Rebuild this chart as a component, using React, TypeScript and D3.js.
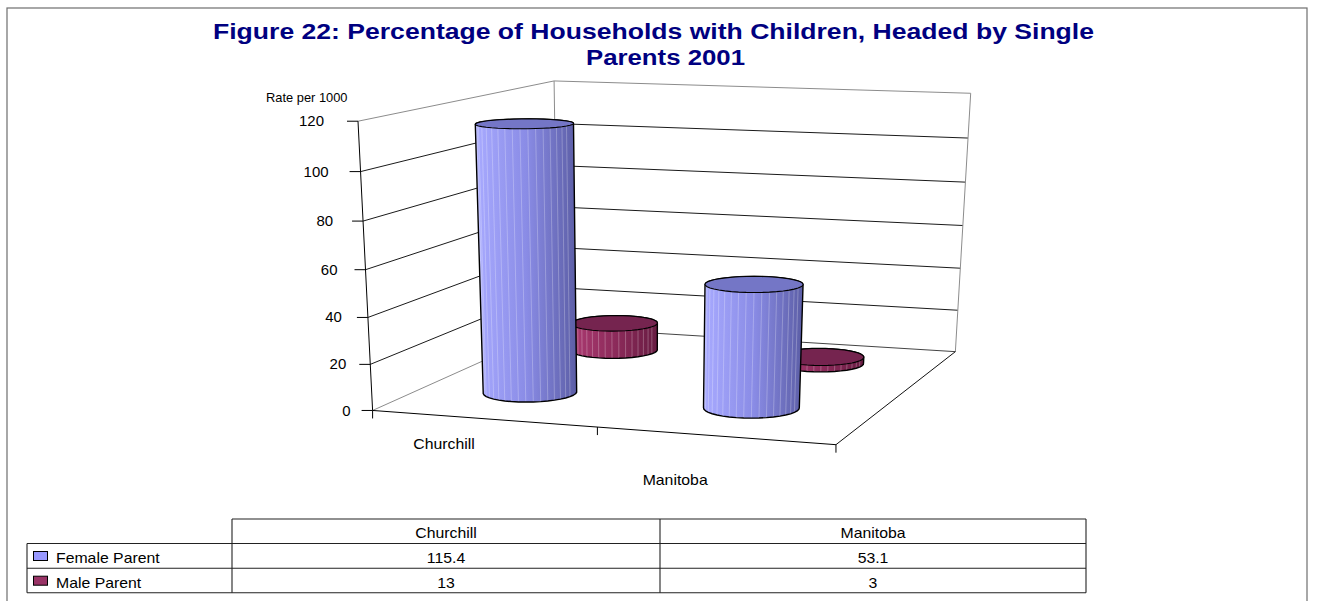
import React, { useMemo } from 'react';
import * as d3 from 'd3';

// ---------- data ----------
const categories = ['Churchill', 'Manitoba'];
const seriesNames = ['Female Parent', 'Male Parent'];
const femaleValues = [115.4, 53.1];
const maleValues = [13, 3];
const valueTicks = [0, 20, 40, 60, 80, 100, 120];
const titleLines = ['Figure 22: Percentage of Households with Children, Headed by Single', 'Parents 2001'];
const axisTitle = 'Rate per 1000';

// ---------- styles / layout ----------
const seriesValues = [femaleValues, maleValues];
const seriesFill = ['#9999FF', '#993366'];
const seriesGrad = [
  ['#a8aaff', '#8a8ce6', '#5c5ea6'],
  ['#ab3a71', '#8d2b5b', '#681c42'],
];
const seriesTop = ['#7476c6', '#75244f'];
const FONT = '"Liberation Sans", Arial, sans-serif';

// plot box anchors: [u, v, w, screenX, screenY]
const boxAnchors = [
  [0, 0, 0, 374, 408],
  [0, 1, 0, 356.5, 121.5],
  [0, 0, 1, 556, 330],
  [0, 1, 1, 556, 80],
  [1, 0, 1, 956, 349],
  [1, 1, 1, 970, 94],
  [1, 0, 0, 836, 447],
];

const CX = 650, CY = 300, SC = 300;

function solveCamera(pts: number[][]): number[] {
  const rows: number[][] = [];
  const rhs: number[] = [];
  for (const [X, Y, Z, sx, sy] of pts) {
    const x = (sx - CX) / SC, y = (sy - CY) / SC;
    rows.push([X, Y, Z, 1, 0, 0, 0, 0, -x * X, -x * Y, -x * Z]); rhs.push(x);
    rows.push([0, 0, 0, 0, X, Y, Z, 1, -y * X, -y * Y, -y * Z]); rhs.push(y);
  }
  const n = 11;
  const M: number[][] = [];
  for (let i = 0; i < n; i++) {
    const r = new Array(n + 1).fill(0);
    for (let k = 0; k < rows.length; k++) {
      for (let j = 0; j < n; j++) r[j] += rows[k][i] * rows[k][j];
      r[n] += rows[k][i] * rhs[k];
    }
    M.push(r);
  }
  for (let c = 0; c < n; c++) {
    let piv = c;
    for (let r = c + 1; r < n; r++) if (Math.abs(M[r][c]) > Math.abs(M[piv][c])) piv = r;
    const tmp = M[c]; M[c] = M[piv]; M[piv] = tmp;
    for (let r = 0; r < n; r++) {
      if (r === c) continue;
      const f = M[r][c] / M[c][c];
      for (let j = c; j <= n; j++) M[r][j] -= f * M[c][j];
    }
  }
  return M.map((r, i) => r[n] / r[i]);
}

type Pt = [number, number];
const poly = (pts: Pt[]) => 'M' + pts.map(p => `${p[0].toFixed(2)},${p[1].toFixed(2)}`).join('L') + 'Z';
const line = (a: Pt, b: Pt) => `M${a[0]},${a[1]}L${b[0]},${b[1]}`;

function T({ x, y, size = 14, sx = 1.13, anchor = 'start', weight = 'normal', fill = '#000', dy, children }: any) {
  return (
    <text transform={`translate(${x},${y}) scale(${sx},1)`} textAnchor={anchor} fontSize={size}
      fontWeight={weight} fill={fill} fontFamily={FONT} dy={dy}>{children}</text>
  );
}

function Cylinder({ P, uc, wc, v, r, gradId, top }: any) {
  const N = 40;
  const bottom: Pt[] = [], topPts: Pt[] = [];
  const facets: [Pt, Pt][] = [];
  for (let i = 0; i < N; i++) {
    const t = (2 * Math.PI * i) / N;
    const u = uc + r * Math.cos(t), w = wc + r * Math.sin(t);
    const b = P(u, 0, w), tp = P(u, v, w);
    bottom.push(b); topPts.push(tp);
    if (Math.sin(t) < -0.05) facets.push([b, tp]);
  }
  const hull = d3.polygonHull([...bottom, ...topPts]) as Pt[];
  return (
    <g>
      <path d={poly(hull)} fill={`url(#${gradId})`} />
      {facets.map((f, i) => (
        <path key={i} d={line(f[0], f[1])} stroke="#ffffff" strokeOpacity={0.32} strokeWidth={0.8} />
      ))}
      <path d={poly(hull)} fill="none" stroke="#000" strokeWidth={1.4} strokeLinejoin="round" />
      <path d={poly(topPts)} fill={top} stroke="#000" strokeWidth={1.1} />
    </g>
  );
}

export default function App() {
  const cam = useMemo(() => solveCamera(boxAnchors), []);
  const P = (u: number, v: number, w: number): Pt => {
    const [a, b, c, d, e, f, g, h, i, j, k] = cam;
    const den = i * u + j * v + k * w + 1;
    return [((a * u + b * v + c * w + d) / den) * SC + CX, ((e * u + f * v + g * w + h) / den) * SC + CY];
  };

  const yScale = d3.scaleLinear().domain([0, 120]).range([0, 1]);
  const xBand = d3.scaleBand<string>().domain(categories).range([-0.012, 0.988]);
  const zPoint = d3.scalePoint<string>().domain(seriesNames).range([0.27, 0.77]);
  const uc = (c: string) => (xBand(c) as number) + xBand.bandwidth() / 2;
  const radius = 0.1;

  const gray = '#8c8c8c';

  // draw back row first
  const drawOrder = seriesNames.map((_, i) => i).reverse();

  const catLabelDy = [31, 50];

  const tableCols = [27, 232, 660, 1086];
  const rowY = [519, 543.5, 568.2, 592.7];

  return (
    <svg width={1320} height={601} style={{ position: 'absolute', left: 0, top: 0, background: '#fff' }}>
      <defs>
        {seriesGrad.map((g, i) => (
          <linearGradient key={i} id={`grad${i}`} x1="0" y1="0" x2="1" y2="0">
            <stop offset="0" stopColor={g[0]} />
            <stop offset="0.5" stopColor={g[1]} />
            <stop offset="1" stopColor={g[2]} />
          </linearGradient>
        ))}
      </defs>
      <rect x={0} y={0} width={1320} height={601} fill="#fff" />
      {/* outer border */}
      <rect x={7} y={8} width={1300} height={610} fill="none" stroke="#6e6e6e" strokeWidth={1.2} />

      {/* title */}
      <text x={213} y={38.5} fontSize={21.5} fontWeight="bold" fill="#000080" fontFamily={FONT}
        textLength={881} lengthAdjust="spacingAndGlyphs">{titleLines[0]}</text>
      <text x={586} y={65} fontSize={21.5} fontWeight="bold" fill="#000080" fontFamily={FONT}
        textLength={159} lengthAdjust="spacingAndGlyphs">{titleLines[1]}</text>

      {/* axis title */}
      <T x={266} y={101.5} size={12.5} sx={1.03}>{axisTitle}</T>

      {/* walls & gridlines */}
      <g fill="none" strokeWidth={1}>
        {valueTicks.filter(t => t > 0 && t < 120).map(t => {
          const v = yScale(t);
          const a = P(0, v, 0), b = P(0, v, 1), c = P(1, v, 1);
          return <path key={t} d={`M${a[0]},${a[1]}L${b[0]},${b[1]}L${c[0]},${c[1]}`} stroke="#1a1a1a" />;
        })}
        <path d={line(P(0, 1, 0), P(0, 1, 1))} stroke={gray} />
        <path d={line(P(0, 1, 1), P(1, 1, 1))} stroke={gray} />
        <path d={line(P(0, 0, 1), P(0, 1, 1))} stroke={gray} />
        <path d={line(P(1, 0, 1), P(1, 1, 1))} stroke={gray} />
        <path d={line(P(0, 0, 0), P(0, 0, 1))} stroke={gray} />
        <path d={line(P(0, 0, 1), P(1, 0, 1))} stroke="#444" />
        <path d={line(P(1, 0, 1), P(1, 0, 0))} stroke="#111" />
        <path d={line(P(0, 0, 0), P(1, 0, 0))} stroke="#000" />
        <path d={line(P(0, 0, 0), P(0, 1, 0))} stroke="#000" />
      </g>

      {/* value axis ticks and labels */}
      {valueTicks.map(t => {
        const p = P(0, yScale(t), 0);
        return (
          <g key={t}>
            <path d={line([p[0] - 11, p[1]], p)} stroke="#000" />
            <T x={p[0] - 22 - 12 * yScale(t)} y={p[1]} size={14} sx={1.07} anchor="end" dy="0.36em">{t}</T>
          </g>
        );
      })}

      {/* category axis ticks */}
      {[0, 0.5, 1].map(u => {
        const p = P(u, 0, 0);
        return <path key={u} d={line(p, [p[0], p[1] + 8])} stroke="#000" />;
      })}
      {categories.map((c, i) => {
        const p = P(uc(c), 0, 0);
        return <T key={c} x={p[0] - 34} y={p[1] + catLabelDy[i]} anchor="middle">{c}</T>;
      })}

      {/* cylinders */}
      {drawOrder.map(si => (
        <g key={si}>
          {categories.map((c, ci) => (
            <Cylinder key={c} P={P} uc={uc(c)} wc={zPoint(seriesNames[si])} v={yScale(seriesValues[si][ci])}
              r={radius} gradId={`grad${si}`} top={seriesTop[si]} />
          ))}
        </g>
      ))}

      {/* data table */}
      <g stroke="#222" strokeWidth={1.1} fill="none">
        <path d={line([tableCols[1], rowY[0]], [tableCols[3], rowY[0]])} />
        {[1, 2, 3].map(r => <path key={r} d={line([tableCols[0], rowY[r]], [tableCols[3], rowY[r]])} />)}
        <path d={line([tableCols[0], rowY[1]], [tableCols[0], rowY[3]])} />
        {[1, 2, 3].map(c => <path key={c} d={line([tableCols[c], rowY[0]], [tableCols[c], rowY[3]])} />)}
      </g>
      {categories.map((c, i) => (
        <T key={c} x={(tableCols[i + 1] + tableCols[i + 2]) / 2} y={rowY[0] + 19} anchor="middle">{c}</T>
      ))}
      {seriesNames.map((s, si) => (
        <g key={s}>
          <rect x={33.5} y={rowY[si + 1] + 8} width={14} height={9} fill={seriesFill[si]} stroke="#000" strokeWidth={1} />
          <T x={56} y={rowY[si + 1] + 19.5}>{s}</T>
          {categories.map((c, ci) => (
            <T key={c} x={(tableCols[ci + 1] + tableCols[ci + 2]) / 2} y={rowY[si + 1] + 19.5} anchor="middle">
              {String(seriesValues[si][ci])}
            </T>
          ))}
        </g>
      ))}
    </svg>
  );
}
